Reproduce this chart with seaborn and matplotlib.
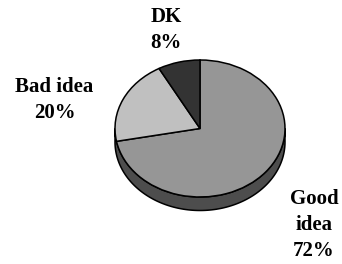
import numpy as np
import matplotlib
matplotlib.use("Agg")
import matplotlib.pyplot as plt
from matplotlib.transforms import Affine2D
from matplotlib.patches import Polygon
import seaborn as sns

# data
labels = ["Good\nidea", "Bad idea", "DK"]
shares = [72, 20, 8]
slice_colors = ["#969696", "#c0c0c0", "#333333"]
side_color = "#4d4d4d"

sns.set_style("white")
plt.rcParams["font.family"] = ["Liberation Serif", "DejaVu Serif"]

W, H = 342, 264
fig = plt.figure(figsize=(W / 100, H / 100), dpi=100)
ax = fig.add_axes([0, 0, 1, 1])

# pie geometry in pixels (y up)
cx, cy = 200, H - 128.5
rx, ry = 85, 68.5
depth = 13.5

# side band (front half)
th = np.linspace(np.pi, 2 * np.pi, 200)
top = np.column_stack([cx + rx * np.cos(th), cy + ry * np.sin(th)])
bot = top[::-1] - [0, depth]
ax.add_patch(Polygon(np.vstack([top, bot]), closed=True, facecolor=side_color,
                     edgecolor="black", linewidth=1.1, zorder=1))

wedges, _ = ax.pie(shares, startangle=90, counterclock=False, colors=slice_colors,
                   wedgeprops=dict(edgecolor="black", linewidth=1.1))
tr = Affine2D().scale(rx, ry).translate(cx, cy) + ax.transData
for w in wedges:
    w.set_transform(tr)
    w.set_zorder(2)

ax.set_aspect("auto")
ax.set_xlim(0, W)
ax.set_ylim(0, H)
ax.axis("off")

# labels
txt = dict(ha="center", va="center", fontsize=15, fontweight="bold",
           linespacing=1.4, color="black")
label_pos = [(314, 225), (54.5, 100), (166, 30)]
for lab, val, (x, y) in zip(labels, shares, label_pos):
    ax.text(x, H - y, f"{lab}\n{val}%", **txt)

fig.savefig("out.png", dpi=100)
